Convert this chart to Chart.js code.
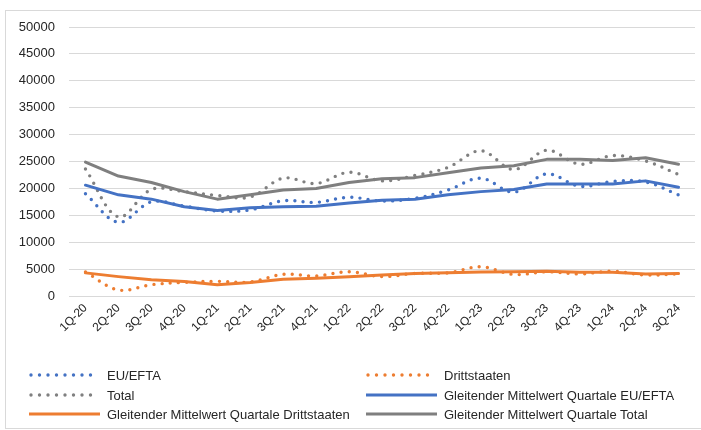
<!DOCTYPE html>
<html>
<head>
<meta charset="utf-8">
<script src="https://cdn.jsdelivr.net/npm/chart.js@4.4.1/dist/chart.umd.min.js"></script>
<style>
  html, body { margin: 0; padding: 0; background: #fff; }
  #wrap { position: relative; width: 701px; height: 430px; overflow: hidden; }
  #frame { position: absolute; left: 5px; top: 10px; width: 697px; height: 419px;
           border: 1px solid #d9d9d9; box-sizing: border-box; }
  #c { position: absolute; left: 0; top: 0; }
  #legend { position: absolute; left: 0; top: 0; width: 701px; height: 430px;
            font: 13px "Liberation Sans", Arial, sans-serif; color: #262626; pointer-events: none; }
  .item { position: absolute; height: 16px; display: flex; align-items: center; white-space: nowrap; }
  .item svg { margin-right: 5px; flex: none; }
</style>
</head>
<body>
<div id="wrap">
  <div id="frame"></div>
  <canvas id="c" width="701" height="430"></canvas>
  <div id="legend"></div>
</div>
<script>
// Quarter labels
const quarters = ['1Q-20','2Q-20','3Q-20','4Q-20','1Q-21','2Q-21','3Q-21','4Q-21',
                  '1Q-22','2Q-22','3Q-22','4Q-22','1Q-23','2Q-23','3Q-23','4Q-23',
                  '1Q-24','2Q-24','3Q-24'];

// Quarterly values
const euEfta       = [19000,13700,17500,16700,15800,16000,17700,17400,18350,17650,18150,19700,21900,19300,22700,20400,21300,21200,18800];
const drittstaaten = [ 4450, 1120, 2100, 2540, 2730, 2600, 4030, 3720, 4520, 3600, 4200, 4300, 5450, 4000, 4500, 4100, 4600, 3900, 4100];
const total        = [23600,14700,19800,19400,18700,18400,21900,20900,23000,21400,22400,23900,27000,23500,27100,24500,26100,25100,22600];

// Moving averages over quarters
const maEuEfta       = [20600,18800,18000,16600,15900,16400,16600,16700,17300,17800,18000,18800,19400,19800,20800,20800,20800,21400,20200];
const maDrittstaaten = [ 4300, 3600, 3000, 2700, 2100, 2500, 3100, 3300, 3600, 3900, 4200, 4300, 4450, 4500, 4600, 4400, 4400, 4100, 4200];
const maTotal        = [24900,22300,21100,19400,18000,18800,19700,20000,21100,21800,22000,22900,23800,24200,25400,25400,25200,25700,24500];

// Y axis ticks
const yMin = 0, yMax = 50000, yStep = 5000;

const BLUE = '#4472C4', ORANGE = '#ED7D31', GREY = '#808080', GREY_DARK = '#7F7F7F';

function dottedSeries(label, data, color, order) {
  return { label, data, borderColor: color, backgroundColor: color,
           borderWidth: 3.4, borderDash: [0, 8.2], borderCapStyle: 'round',
           tension: 0.35, pointRadius: 0, pointHoverRadius: 0, fill: false, order,
           styleKind: 'dotted' };
}
function solidSeries(label, data, color, order) {
  return { label, data, borderColor: color, backgroundColor: color,
           borderWidth: 3, borderCapStyle: 'round', borderJoinStyle: 'round',
           tension: 0, pointRadius: 0, pointHoverRadius: 0, fill: false, order,
           styleKind: 'solid' };
}

const datasets = [
  dottedSeries('EU/EFTA', euEfta, BLUE, 6),
  dottedSeries('Drittstaaten', drittstaaten, ORANGE, 5),
  dottedSeries('Total', total, GREY, 4),
  solidSeries('Gleitender Mittelwert Quartale EU/EFTA', maEuEfta, BLUE, 3),
  solidSeries('Gleitender Mittelwert Quartale Drittstaaten', maDrittstaaten, ORANGE, 2),
  solidSeries('Gleitender Mittelwert Quartale Total', maTotal, GREY_DARK, 1)
];

const FONT = '"Liberation Sans", Arial, sans-serif';

const chart = new Chart(document.getElementById('c'), {
  type: 'line',
  data: { labels: quarters, datasets },
  options: {
    responsive: false,
    animation: false,
    devicePixelRatio: 1,
    layout: { padding: { left: 5, right: 6, top: 27, bottom: 90 } },
    plugins: { legend: { display: false }, tooltip: { enabled: false } },
    scales: {
      x: {
        type: 'category',
        offset: true,
        grid: { display: false, drawTicks: false },
        border: { display: false },
        ticks: { minRotation: 45, maxRotation: 45, autoSkip: false, padding: 5,
                 color: '#262626', font: { family: FONT, size: 12 } },
        afterFit: s => { s.height = 44; }
      },
      y: {
        min: yMin, max: yMax,
        grid: { color: '#d9d9d9', lineWidth: 1, drawTicks: false },
        border: { display: false },
        ticks: { stepSize: yStep, padding: 14, color: '#262626',
                 font: { family: FONT, size: 13 },
                 callback: v => String(v) },
        afterFit: s => { s.width = 64; }
      }
    }
  }
});

// Two-column legend built from the datasets
const legendPos = [
  [28, 367], [365, 367],
  [28, 387], [365, 387],
  [28, 406], [365, 406]
];
const legendEl = document.getElementById('legend');
chart.data.datasets.forEach((ds, i) => {
  const [lx, ly] = legendPos[i];
  const item = document.createElement('div');
  item.className = 'item';
  item.style.left = lx + 'px';
  item.style.top = ly + 'px';
  const line = ds.styleKind === 'dotted'
    ? `<line x1="3" y1="4" x2="71" y2="4" stroke="${ds.borderColor}" stroke-width="3.4" stroke-linecap="round" stroke-dasharray="0 8.5"/>`
    : `<line x1="1" y1="4" x2="72" y2="4" stroke="${ds.borderColor}" stroke-width="3"/>`;
  item.innerHTML = `<svg width="74" height="8">${line}</svg><span></span>`;
  item.querySelector('span').textContent = ds.label;
  legendEl.appendChild(item);
});
</script>
</body>
</html>
